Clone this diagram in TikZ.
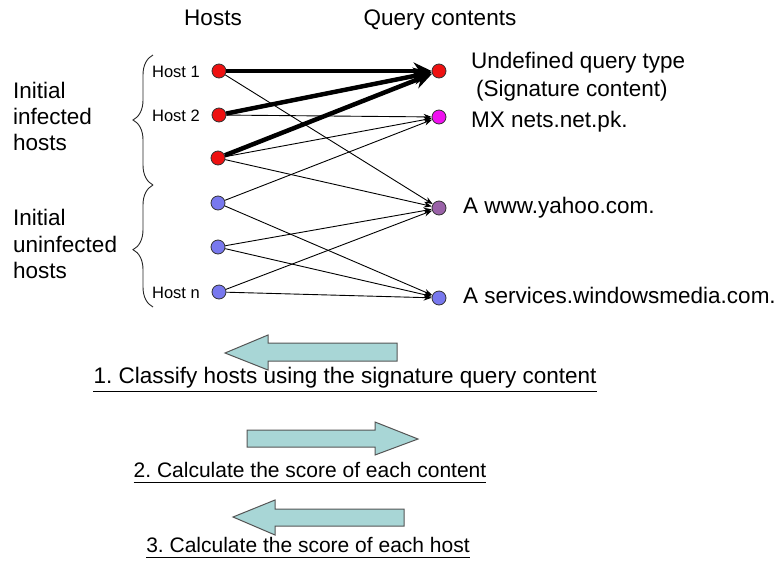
\documentclass[tikz,border=0pt]{standalone}
\usepackage{fontspec}
\setmainfont{Liberation Sans}
\usetikzlibrary{arrows.meta,decorations.pathreplacing}
\frenchspacing
\definecolor{nred}{HTML}{EE1111}
\definecolor{nmag}{HTML}{F010F0}
\definecolor{npur}{HTML}{9A62A8}
\definecolor{nblue}{HTML}{7878EE}
\definecolor{bfill}{HTML}{A8D6D6}
\definecolor{bline}{HTML}{555555}
\tikzset{
  dot/.style={circle, minimum size=14pt, inner sep=0pt, draw=black!80, line width=0.8pt},
  big/.style={font=\frenchspacing\fontsize{22.5}{27}\selectfont, inner sep=0pt},
  mid/.style={font=\frenchspacing\fontsize{21}{25}\selectfont, inner sep=0pt},
  small/.style={font=\fontsize{16.5}{20}\selectfont, inner sep=0pt},
  thin/.style={draw=black, line width=0.9pt, -{Stealth[length=8pt,width=6pt]}},
  thick/.style={draw=black, line width=4.5pt, -{Stealth[length=18pt,width=17pt]}},
  blockarrow/.style={draw=bline, fill=bfill, line width=1pt, line join=miter},
  bracestyle/.style={draw=black!85, line width=0.9pt, decorate},
}
\begin{document}
\begin{tikzpicture}[x=1pt,y=-1pt]
\useasboundingbox (0,0) rectangle (779,563);

% titles
\node[big, anchor=base] (th) at (213,25) {Hosts};
\node[big, anchor=base] (tq) at (440,25) {Query contents};

% host nodes
\node[dot, fill=nred] (h1) at (219,71) {};
\node[dot, fill=nred] (h2) at (219,115) {};
\node[dot, fill=nred] (h3) at (218,158) {};
\node[dot, fill=nblue] (h4) at (218,203) {};
\node[dot, fill=nblue] (h5) at (218,247) {};
\node[dot, fill=nblue] (hn) at (219,292) {};

% content nodes
\node[dot, fill=nred] (c1) at (439,71) {};
\node[dot, fill=nmag] (c2) at (439,117) {};
\node[dot, fill=npur] (c3) at (439,208) {};
\node[dot, fill=nblue] (c4) at (439,298) {};

% host labels
\node[small, anchor=base east] (l1) at (200,77) {Host 1};
\node[small, anchor=base east] (l2) at (200,121) {Host 2};
\node[small, anchor=base east] (ln) at (200,298) {Host n};

% content labels
\node[big, anchor=base west] (q1a) at (471,68) {Undefined query type};
\node[big, anchor=base west] (q1b) at (476,96) {(Signature content)};
\node[big, anchor=base west] (q2) at (471,127) {MX nets.net.pk.};
\node[big, anchor=base west] (q3) at (463,213) {A www.yahoo.com.};
\node[big, anchor=base west] (q4) at (463,303) {A services.windowsmedia.com.};

% group labels
\node[big, anchor=base west] (g1a) at (13,98) {Initial};
\node[big, anchor=base west] (g1b) at (13,124) {infected};
\node[big, anchor=base west] (g1c) at (13,150) {hosts};
\node[big, anchor=base west] (g2a) at (13,225) {Initial};
\node[big, anchor=base west] (g2b) at (13,252) {uninfected};
\node[big, anchor=base west] (g2c) at (13,278) {hosts};

% braces
\coordinate (b1s) at (153,185);
\coordinate (b1e) at (153,55);
\coordinate (b2s) at (153,307);
\coordinate (b2e) at (153,185);
\draw[bracestyle, decoration={brace, amplitude=20pt}] (b1s) -- (b1e);
\draw[bracestyle, decoration={brace, amplitude=20pt, aspect=0.47}] (b2s) -- (b2e);

% thin edges
\draw[thin] (h1) -- (c3);
\draw[thin] (h2) -- (c2);
\draw[thin] (h3) -- (c2);
\draw[thin] (h3) -- (c3);
\draw[thin] (h4) -- (c2);
\draw[thin] (h4) -- (c4);
\draw[thin] (h5) -- (c3);
\draw[thin] (h5) -- (c4);
\draw[thin] (hn) -- (c3);
\draw[thin] (hn) -- (c4);

% thick edges
\draw[thick] (h1) -- (c1);
\draw[thick] (h2) -- (c1);
\draw[thick] (h3) -- (c1);

% block arrows
\draw[blockarrow] (225,353) -- (268,335) -- (268,343) -- (397,343) -- (397,361) -- (268,361) -- (268,370) -- cycle;
\draw[blockarrow] (418,439) -- (375,422) -- (375,430) -- (247,430) -- (247,447) -- (375,447) -- (375,455) -- cycle;
\draw[blockarrow] (233,517) -- (275,500) -- (275,509) -- (404,509) -- (404,526) -- (275,526) -- (275,535) -- cycle;

% step texts
\node[big, anchor=base] (s1) at (345,383) {1. Classify hosts using the signature query content};
\node[mid, anchor=base] (s2) at (310,477) {2. Calculate the score of each content};
\node[mid, anchor=base] (s3) at (308,552) {3. Calculate the score of each host};
\draw[line width=1pt] ([yshift=-8pt]s1.base west) -- ([yshift=-8pt]s1.base east);
\draw[line width=1pt] ([yshift=-5pt]s2.base west) -- ([yshift=-5pt]s2.base east);
\draw[line width=1pt] ([yshift=-5pt]s3.base west) -- ([yshift=-5pt]s3.base east);
\end{tikzpicture}
\end{document}
